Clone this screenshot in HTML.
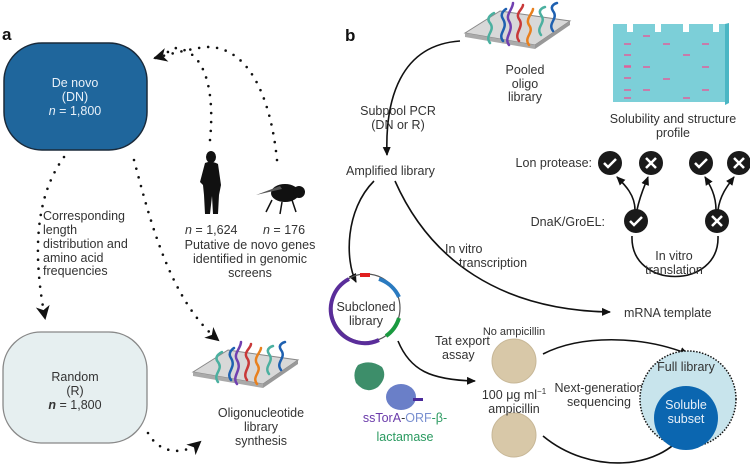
<!DOCTYPE html>
<html><head><meta charset="utf-8"><style>
html,body{margin:0;padding:0;background:#fff}
svg{display:block;font-family:"Liberation Sans",sans-serif}
text{fill:#333;font-size:12.5px}
</style></head><body>
<svg width="750" height="467" viewBox="0 0 750 467" xmlns="http://www.w3.org/2000/svg">
<defs>
<marker id="ar" markerWidth="10" markerHeight="10" refX="8" refY="5" orient="auto" markerUnits="userSpaceOnUse"><path d="M0,1 L9,5 L0,9 Z" fill="#111"/></marker>
<marker id="ab" markerWidth="16" markerHeight="16" refX="12" refY="8" orient="auto" markerUnits="userSpaceOnUse"><path d="M0,1 L14,8 L0,15 L4,8 Z" fill="#111"/></marker>
<g id="slide">
<path d="M0,30 L35,8 L105,18 L70,42 Z" fill="#d8d8d8" stroke="#888" stroke-width="1"/>
<path d="M0,30 L70,42 L70,46 L0,34 Z" fill="#aaa"/>
<path d="M70,42 L105,18 L105,22 L70,46 Z" fill="#999"/>
<g fill="none" stroke-width="2.5" stroke-linecap="round">
<path d="M25,40 c-6,-8 6,-12 0,-20 c-5,-6 4,-10 4,-10" stroke="#4bb0a0"/>
<path d="M38,38 c-6,-8 6,-12 0,-22 c-4,-6 3,-10 3,-10" stroke="#1e60b0"/>
<path d="M44,42 c-6,-8 6,-14 0,-24 c-4,-6 4,-12 4,-18" stroke="#7040b0"/>
<path d="M54,38 c-6,-8 6,-14 0,-22 c-4,-6 4,-10 4,-14" stroke="#c83838"/>
<path d="M64,42 c-6,-8 6,-12 0,-20 c-4,-6 4,-12 4,-16" stroke="#e8801e"/>
<path d="M76,32 c-6,-8 6,-12 0,-20 c-4,-6 4,-8 4,-8" stroke="#4bb0a0"/>
<path d="M88,28 c-6,-8 6,-12 0,-20 c-4,-6 4,-8 4,-8" stroke="#1e60b0"/>
</g></g>
</defs>

<!-- Panel a -->
<text x="2" y="40" style="font-weight:bold;font-size:17px;fill:#111">a</text>
<rect x="4" y="43" width="143" height="107" rx="38" fill="#1f669c" stroke="#1a2a3a" stroke-width="1.5"/>
<text x="75" y="87" text-anchor="middle" style="fill:#e8f0f8">De novo</text>
<text x="75" y="101" text-anchor="middle" style="fill:#e8f0f8">(DN)</text>
<text x="75" y="115" text-anchor="middle" style="fill:#e8f0f8"><tspan font-style="italic">n</tspan> = 1,800</text>

<rect x="3" y="332" width="144" height="111" rx="38" fill="#e6eff0" stroke="#888" stroke-width="1.3"/>
<text x="75" y="381" text-anchor="middle">Random</text>
<text x="75" y="395" text-anchor="middle">(R)</text>
<text x="75" y="409" text-anchor="middle"><tspan font-style="italic" font-weight="bold">n</tspan> = 1,800</text>

<g fill="none" stroke="#111" stroke-width="2.6" stroke-linecap="round" stroke-dasharray="0 9">
<path d="M64,157 C40,190 30,240 45,318" marker-end="url(#ab)"/>
<path d="M134,160 C150,220 170,300 218,340" marker-end="url(#ab)"/>
<path d="M148,433 C160,455 185,455 200,442" marker-end="url(#ab)"/>
<path d="M210,140 C215,90 205,50 175,48 C170,50 165,55 155,58"/>
<path d="M277,160 C270,90 245,45 205,47 C185,50 170,54 155,58" marker-end="url(#ab)"/>
</g>
<!-- human -->
<g fill="#111">
<ellipse cx="211" cy="157" rx="5" ry="6"/>
<path d="M205,163 Q211,160 218,164 L221,185 L219,195 L218,214 L213,214 L212,196 L210,214 L205,214 L204,195 L203,185 L200,182 Z"/>
</g>
<!-- fly -->
<g fill="#111">
<ellipse cx="285" cy="193" rx="14" ry="9"/>
<circle cx="299" cy="192" r="6"/>
<path d="M256,195 L280,186 L282,189 Z" fill="#555"/>
<path d="M272,200 l-6,12 M282,202 l-2,12 M292,200 l4,12" stroke="#111" stroke-width="1.5"/>
</g>
<text x="185" y="234" style="font-size:12.5px"><tspan font-style="italic">n</tspan> = 1,624</text>
<text x="263" y="234"><tspan font-style="italic">n</tspan> = 176</text>
<text x="250" y="249" text-anchor="middle">Putative de novo genes</text>
<text x="250" y="263" text-anchor="middle">identified in genomic</text>
<text x="250" y="277" text-anchor="middle">screens</text>
<text x="43" y="220">Corresponding</text>
<text x="43" y="234">length</text>
<text x="43" y="248">distribution and</text>
<text x="43" y="262">amino acid</text>
<text x="43" y="275">frequencies</text>

<use href="#slide" x="193" y="342"/>
<text x="261" y="417" text-anchor="middle">Oligonucleotide</text>
<text x="261" y="431" text-anchor="middle">library</text>
<text x="261" y="445" text-anchor="middle">synthesis</text>

<!-- Panel b -->
<text x="345" y="41" style="font-weight:bold;font-size:17px;fill:#111">b</text>
<use href="#slide" x="465" y="3"/>
<text x="525" y="74" text-anchor="middle">Pooled</text>
<text x="525" y="88" text-anchor="middle">oligo</text>
<text x="525" y="101" text-anchor="middle">library</text>

<!-- gel -->
<path d="M613,24 h14 v8 h6 v-8 h22 v8 h6 v-8 h22 v8 h6 v-8 h24 v8 h6 v-8 h6 v78 h-112 Z" fill="#7ccfd8"/>
<path d="M725,24 l4,-1 v80 l-4,2 Z" fill="#4ab6c4"/>
<g stroke="#e0609a" stroke-width="1.5">
<path d="M624,44h7 M643,36h7 M624,55h7 M663,44h7 M702,44h7 M624,66h7 M683,55h7 M624,67h7 M624,78h7 M643,67h7 M702,67h7 M663,79h7 M624,90h7 M643,90h7 M624,98h7 M683,98h7 M702,90h7"/>
</g>
<text x="673" y="123" text-anchor="middle">Solubility and structure</text>
<text x="673" y="137" text-anchor="middle">profile</text>

<g fill="none" stroke="#111" stroke-width="1.6">
<path d="M460,41 C400,45 385,100 387,155" marker-end="url(#ar)"/>
<path d="M374,181 C345,210 345,260 356,282" marker-end="url(#ar)"/>
<path d="M395,181 C430,260 500,310 610,312" marker-end="url(#ar)"/>
<path d="M632,236 C630,290 720,290 718,236"/>
<path d="M635,210 C635,195 625,185 617,177" marker-end="url(#ar)"/>
<path d="M637,210 C640,195 645,185 648,177" marker-end="url(#ar)"/>
<path d="M716,210 C716,195 710,185 705,177" marker-end="url(#ar)"/>
<path d="M718,210 C720,195 728,185 734,177" marker-end="url(#ar)"/>
<path d="M398,341 C410,370 430,380 475,381" marker-end="url(#ar)"/>
<path d="M543,354 C580,335 640,335 688,354" marker-end="url(#ar)"/>
<path d="M543,436 C590,475 660,470 685,432" marker-end="url(#ar)"/>
</g>
<text x="398" y="115" text-anchor="middle">Subpool PCR</text>
<text x="398" y="129" text-anchor="middle">(DN or R)</text>
<text x="346" y="175">Amplified library</text>
<text x="592" y="167" text-anchor="end">Lon protease:</text>
<text x="605" y="226" text-anchor="end">DnaK/GroEL:</text>
<g>
<circle cx="610" cy="163" r="12" fill="#1a1a1a"/><path d="M604,163 l4,4 l8,-8" stroke="#fff" stroke-width="2.5" fill="none"/>
<circle cx="651" cy="163" r="12" fill="#1a1a1a"/><path d="M646,158 l10,10 M656,158 l-10,10" stroke="#fff" stroke-width="2.5"/>
<circle cx="701" cy="163" r="12" fill="#1a1a1a"/><path d="M695,163 l4,4 l8,-8" stroke="#fff" stroke-width="2.5" fill="none"/>
<circle cx="739" cy="163" r="12" fill="#1a1a1a"/><path d="M734,158 l10,10 M744,158 l-10,10" stroke="#fff" stroke-width="2.5"/>
<circle cx="636" cy="221" r="12" fill="#1a1a1a"/><path d="M630,221 l4,4 l8,-8" stroke="#fff" stroke-width="2.5" fill="none"/>
<circle cx="717" cy="221" r="12" fill="#1a1a1a"/><path d="M712,216 l10,10 M722,216 l-10,10" stroke="#fff" stroke-width="2.5"/>
</g>
<text x="674" y="260" text-anchor="middle">In vitro</text>
<text x="674" y="274" text-anchor="middle">translation</text>
<text x="445" y="253">In vitro</text>
<text x="459" y="267">transcription</text>
<text x="624" y="317">mRNA template</text>

<!-- plasmid -->
<circle cx="366" cy="308" r="34" fill="none" stroke="#555" stroke-width="1.2"/>
<path d="M349,279 A34,34 0 0 0 379,340" fill="none" stroke="#5a2d9a" stroke-width="4"/>
<path d="M379,279 A34,34 0 0 1 399,297" fill="none" stroke="#2a7ac0" stroke-width="4"/>
<path d="M399,318 A34,34 0 0 1 386,336" fill="none" stroke="#1a9a40" stroke-width="4"/>
<rect x="360" y="273" width="10" height="4" fill="#e02020"/>
<text x="366" y="311" text-anchor="middle">Subcloned</text>
<text x="366" y="325" text-anchor="middle">library</text>
<text x="435" y="345">Tat export</text>
<text x="442" y="359">assay</text>
<!-- protein -->
<g>
<path d="M358,365 q12,-6 24,2 q6,10 -4,20 q-12,8 -22,-4 q-4,-10 2,-18 Z" fill="#1b7a50" opacity="0.85"/>
<ellipse cx="401" cy="397" rx="15" ry="13" fill="#6a7fc8"/>
<rect x="413" y="398" width="10" height="3" fill="#4a2a9a"/>
</g>
<text x="405" y="422" text-anchor="middle" style="font-size:12.5px"><tspan fill="#6a3aaa">ssTorA</tspan><tspan fill="#333">-</tspan><tspan fill="#7a90d0">ORF</tspan><tspan fill="#2a9a60">-β-</tspan></text>
<text x="405" y="441" text-anchor="middle" style="fill:#2a9a60">lactamase</text>

<!-- plates -->
<text x="514" y="335" text-anchor="middle" style="font-size:11px">No ampicillin</text>
<circle cx="514" cy="361" r="22" fill="#d8c8a8" stroke="#c8b898"/>
<circle cx="514" cy="435" r="22" fill="#d8c8a8" stroke="#c8b898"/>
<text x="514" y="399" text-anchor="middle">100 μg ml<tspan dy="-5" font-size="8">−1</tspan></text>
<text x="514" y="413" text-anchor="middle">ampicillin</text>
<text x="599" y="392" text-anchor="middle">Next-generation</text>
<text x="599" y="406" text-anchor="middle">sequencing</text>

<circle cx="688" cy="399" r="48" fill="#c8e4ec" stroke="#111" stroke-width="1.5" stroke-dasharray="1.5 1.5"/>
<circle cx="686" cy="418" r="32" fill="#0b66b0"/>
<text x="686" y="371" text-anchor="middle">Full library</text>
<text x="686" y="409" text-anchor="middle" style="fill:#e8f0f8">Soluble</text>
<text x="686" y="423" text-anchor="middle" style="fill:#e8f0f8">subset</text>
</svg>
</body></html>
